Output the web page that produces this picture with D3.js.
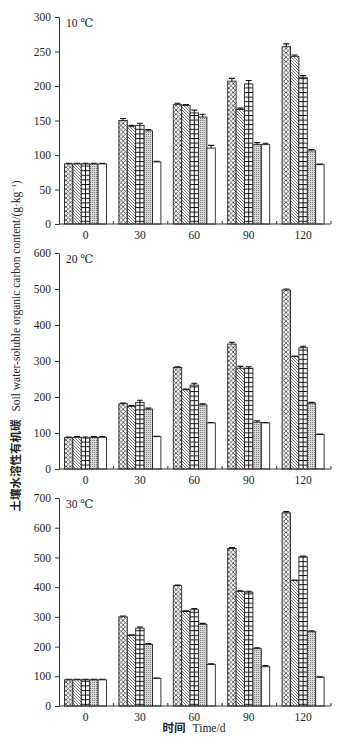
<!DOCTYPE html>
<html>
<head>
<meta charset="utf-8">
<script src="https://cdn.jsdelivr.net/npm/d3@7"></script>
<style>
  body { margin: 0; background: #fff; }
  text { font-family: "Liberation Serif", "DejaVu Serif", serif; fill: #222; }
</style>
</head>
<body>
<div id="chart"></div>
<script>
// incubation time (days)
const days = ["0", "30", "60", "90", "120"];
const seriesKeys = ["cross", "diag", "grid", "dots", "blank"];

// one array per series, values over days (g/kg)
const t10 = [
  [87, 150, 173, 207, 257],
  [87, 141, 172, 166, 243],
  [87, 143, 161, 203, 212],
  [87, 135, 155, 115, 106],
  [87, 90, 110, 115, 86]
];
const t20 = [
  [87, 181, 282, 347, 497],
  [88, 174, 220, 280, 312],
  [86, 185, 233, 280, 337],
  [88, 166, 178, 130, 183],
  [88, 90, 128, 128, 96]
];
const t30 = [
  [88, 300, 405, 530, 650],
  [88, 237, 318, 385, 422],
  [88, 262, 324, 383, 502],
  [88, 207, 275, 193, 250],
  [88, 93, 140, 132, 97]
];
// error bar half widths
const e10 = [
  [1, 3, 2, 4, 4],
  [1, 2, 1, 2, 2],
  [1, 3, 4, 5, 3],
  [1, 2, 4, 3, 2],
  [1, 1, 4, 2, 1]
];
const e20 = [
  [2, 2, 2, 5, 3],
  [2, 2, 2, 5, 2],
  [3, 6, 5, 4, 4],
  [2, 3, 3, 4, 2],
  [2, 1, 1, 1, 1]
];
const e30 = [
  [2, 3, 2, 3, 4],
  [2, 3, 2, 3, 2],
  [2, 4, 4, 3, 3],
  [2, 3, 3, 3, 3],
  [2, 1, 2, 4, 1]
];

const panels = [
  {label: "10 ℃", vals: t10, errs: e10, max: 300, step: 50, top: 17, bottom: 224},
  {label: "20 ℃", vals: t20, errs: e20, max: 600, step: 100, top: 253, bottom: 469},
  {label: "30 ℃", vals: t30, errs: e30, max: 700, step: 100, top: 498, bottom: 706}
];

const W = 349, H = 739;
const left = 59, right = 331;

const svg = d3.select("#chart").append("svg")
  .attr("width", W)
  .attr("height", H);

// fill patterns
const defs = svg.append("defs");

const pCross = defs.append("pattern").attr("id", "cross")
  .attr("patternUnits", "userSpaceOnUse").attr("width", 4.4).attr("height", 4.4);
pCross.append("rect").attr("width", 4.4).attr("height", 4.4).attr("fill", "#fff");
pCross.append("path").attr("d", "M0,0L4.4,4.4M4.4,0L0,4.4")
  .attr("stroke", "#333").attr("stroke-width", 0.75);

const pDiag = defs.append("pattern").attr("id", "diag")
  .attr("patternUnits", "userSpaceOnUse").attr("width", 3).attr("height", 3);
pDiag.append("rect").attr("width", 3).attr("height", 3).attr("fill", "#fff");
pDiag.append("path").attr("d", "M-1,-1L4,4M-1,2L1,4M2,-1L4,1")
  .attr("stroke", "#555").attr("stroke-width", 0.8);

const pGrid = defs.append("pattern").attr("id", "grid")
  .attr("patternUnits", "userSpaceOnUse").attr("width", 6).attr("height", 4.6);
pGrid.append("rect").attr("width", 6).attr("height", 4.6).attr("fill", "#fff");
pGrid.append("path").attr("d", "M0,0.5H6")
  .attr("stroke", "#111").attr("stroke-width", 1);

const pDots = defs.append("pattern").attr("id", "dots")
  .attr("patternUnits", "userSpaceOnUse").attr("width", 2).attr("height", 2);
pDots.append("rect").attr("width", 2).attr("height", 2).attr("fill", "#d8d8d8");
pDots.append("rect").attr("width", 1).attr("height", 1).attr("fill", "#808080");

const fills = {cross: "url(#cross)", diag: "url(#diag)", grid: "url(#grid)", dots: "url(#dots)", blank: "#fff"};

const x = d3.scaleBand().domain(days).range([left, right]);
const xs = d3.scaleBand().domain(seriesKeys).range([5.5, 47.5]);
const bw = xs.bandwidth();

panels.forEach(p => {
  const y = d3.scaleLinear().domain([0, p.max]).range([p.bottom, p.top]);
  const g = svg.append("g");

  // bars
  p.vals.forEach((vals, si) => {
    const key = seriesKeys[si];
    const sg = g.append("g");
    sg.selectAll("rect")
      .data(vals)
      .enter()
      .append("rect")
      .attr("x", (d, i) => x(days[i]) + xs(key))
      .attr("y", d => y(d))
      .attr("width", bw)
      .attr("height", d => p.bottom - y(d))
      .attr("fill", fills[key])
      .attr("stroke", "#222")
      .attr("stroke-width", 0.9);

    if (key === "grid") {
      sg.selectAll("line.mid")
        .data(vals)
        .enter()
        .append("line")
        .attr("class", "mid")
        .attr("x1", (d, i) => x(days[i]) + xs(key) + bw / 2)
        .attr("x2", (d, i) => x(days[i]) + xs(key) + bw / 2)
        .attr("y1", d => y(d))
        .attr("y2", p.bottom)
        .attr("stroke", "#111")
        .attr("stroke-width", 1);
    }

    // error caps
    const errs = p.errs[si];
    sg.selectAll("path.err")
      .data(vals)
      .enter()
      .append("path")
      .attr("class", "err")
      .attr("d", (d, i) => {
        const cx = x(days[i]) + xs(key) + bw / 2;
        const hi = y(d + errs[i]);
        return `M${cx},${y(d)}V${hi}M${cx - 3},${hi}H${cx + 3}`;
      })
      .attr("stroke", "#111")
      .attr("stroke-width", 1.1)
      .attr("fill", "none");
  });

  // y axis
  const yAxis = g.append("g")
    .attr("transform", `translate(${left},0)`)
    .call(d3.axisLeft(y).tickValues(d3.range(0, p.max + 1, p.step)).tickSize(4).tickSizeOuter(0));
  yAxis.select(".domain").attr("stroke", "#333");
  yAxis.selectAll(".tick line").attr("stroke", "#333");
  yAxis.selectAll("text")
    .attr("x", -8)
    .style("font-family", "Liberation Serif")
    .style("font-size", "11.5px")
    .attr("fill", "#222");

  // x axis
  g.append("line")
    .attr("x1", left).attr("x2", right)
    .attr("y1", p.bottom).attr("y2", p.bottom)
    .attr("stroke", "#333");
  g.selectAll("line.xt")
    .data(days.slice(1).map(d => x(d)).concat([right]))
    .enter()
    .append("line")
    .attr("class", "xt")
    .attr("x1", d => d).attr("x2", d => d)
    .attr("y1", p.bottom).attr("y2", p.bottom - 3)
    .attr("stroke", "#333");
  g.selectAll("text.xl")
    .data(days)
    .enter()
    .append("text")
    .attr("class", "xl")
    .attr("x", d => x(d) + 26.5)
    .attr("y", p.bottom + 15)
    .attr("text-anchor", "middle")
    .style("font-size", "11.5px")
    .text(d => d);

  g.append("text")
    .attr("x", left + 7)
    .attr("y", p.top + 10)
    .style("font-size", "11.5px")
    .text(p.label);
});

// y title
const yt = svg.append("text")
  .attr("transform", "translate(20,346) rotate(-90)")
  .attr("text-anchor", "middle");
yt.append("tspan")
  .style("font-family", "Noto Sans CJK SC")
  .style("font-weight", "bold")
  .style("font-size", "11.5px")
  .text("土壤水溶性有机碳");
yt.append("tspan")
  .attr("dx", 8)
  .style("font-size", "11.5px")
  .text("Soil water-soluble organic carbon content/(g·kg");
yt.append("tspan")
  .attr("dy", -4)
  .style("font-size", "7px")
  .text("−1");
yt.append("tspan")
  .attr("dy", 4)
  .style("font-size", "11.5px")
  .text(")");

// x title
const xt = svg.append("text")
  .attr("x", 194)
  .attr("y", 732)
  .attr("text-anchor", "middle");
xt.append("tspan")
  .style("font-family", "Noto Sans CJK SC")
  .style("font-weight", "bold")
  .style("font-size", "11.5px")
  .text("时间");
xt.append("tspan")
  .attr("dx", 7)
  .style("font-size", "11.5px")
  .text("Time/d");
</script>
</body>
</html>
